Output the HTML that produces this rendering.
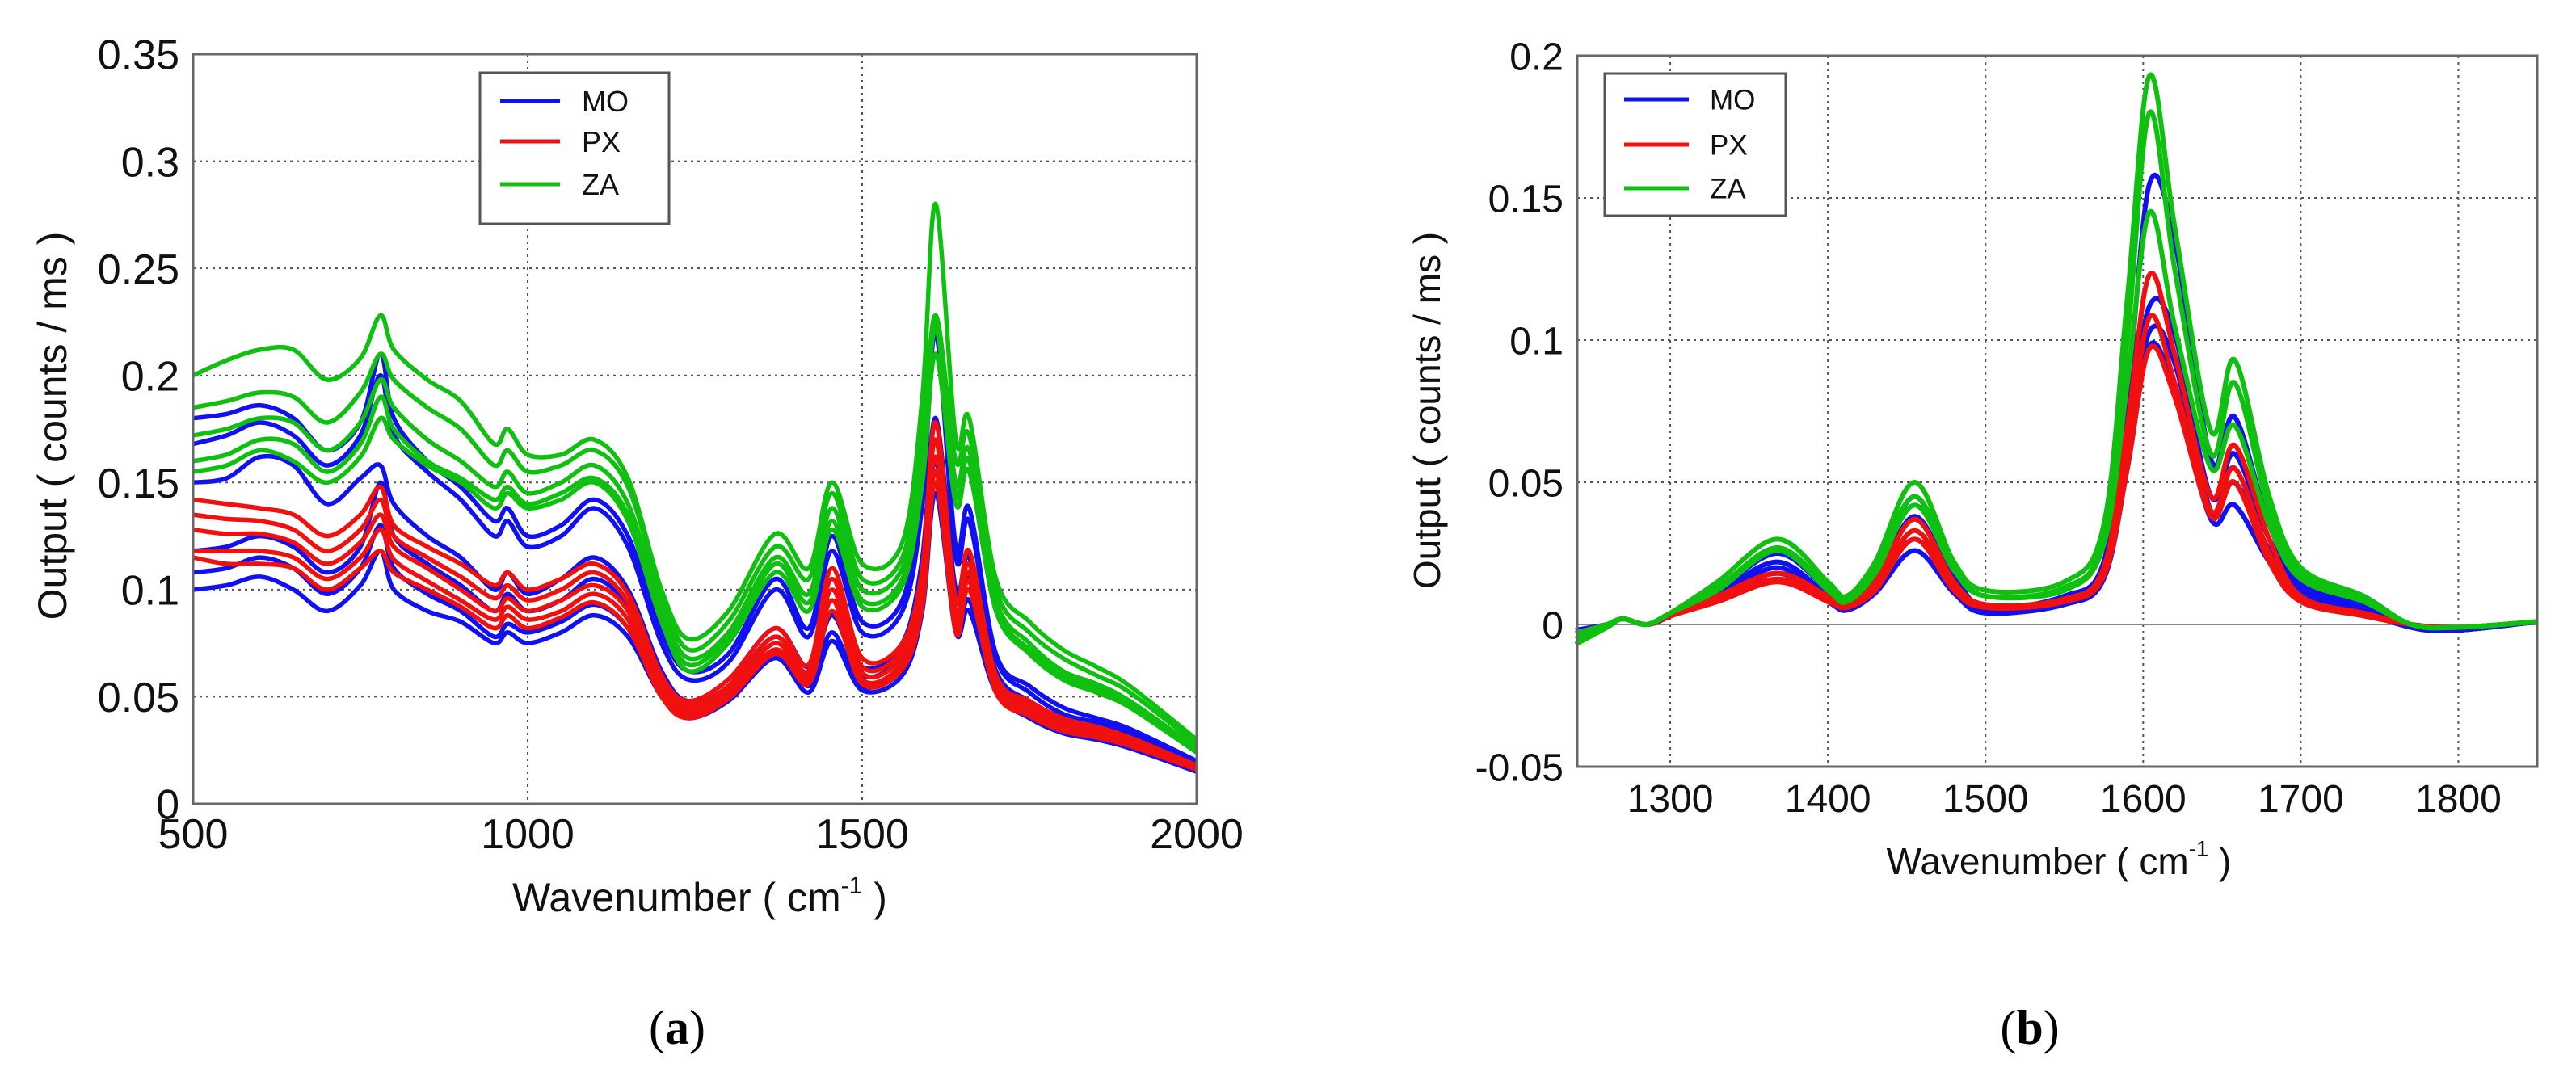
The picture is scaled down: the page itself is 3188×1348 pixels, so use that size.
<!DOCTYPE html>
<html><head><meta charset="utf-8"><style>
html,body{margin:0;padding:0;background:#fff;}
svg{display:block;font-family:"Liberation Sans",Arial,sans-serif;}
</style></head><body>
<svg id="fig" width="3188" height="1348" viewBox="0 0 3188 1348" xmlns="http://www.w3.org/2000/svg">
<rect width="3188" height="1348" fill="#fff"/>
<g id="chartA"></g>
<g id="chartB"></g>
<text x="838" y="1292" font-family="Liberation Serif,serif" font-size="60" text-anchor="middle">(<tspan font-weight="bold">a</tspan>)</text>
<text x="2512" y="1292" font-family="Liberation Serif,serif" font-size="60" text-anchor="middle">(<tspan font-weight="bold">b</tspan>)</text>
</svg>
<script>
// ---- Chart A data ----
const gridA = [500,550,600,650,700,750,780,800,850,900,950,970,1000,1050,1100,1150,1200,1240,1300,1370,1420,1455,1500,1560,1590,1610,1640,1660,1700,1750,1800,1850,1900,2000];
const moA = [
[.180,.182,.186,.180,.165,.178,.210,.180,.160,.148,.132,.138,.125,.130,.142,.125,.080,.062,.070,.105,.082,.125,.085,.095,.150,.225,.120,.138,.070,.055,.045,.040,.035,.020],
[.168,.172,.178,.172,.158,.172,.200,.172,.155,.142,.125,.132,.120,.125,.138,.120,.075,.058,.066,.100,.078,.118,.080,.090,.140,.220,.115,.132,.068,.052,.042,.038,.033,.019],
[.150,.152,.162,.158,.140,.152,.158,.140,.125,.115,.100,.108,.098,.105,.115,.100,.062,.048,.058,.082,.064,.095,.064,.075,.115,.180,.100,.115,.062,.048,.040,.036,.031,.018],
[.118,.120,.125,.120,.108,.120,.150,.125,.112,.102,.090,.098,.090,.095,.105,.092,.058,.045,.055,.078,.060,.088,.060,.070,.105,.160,.090,.105,.058,.045,.037,.033,.029,.017],
[.108,.110,.115,.110,.098,.110,.130,.110,.098,.090,.078,.084,.080,.085,.093,.082,.052,.042,.050,.072,.055,.080,.055,.064,.095,.150,.082,.095,.055,.042,.034,.031,.027,.016],
[.100,.102,.106,.100,.090,.102,.118,.100,.090,.085,.075,.080,.075,.080,.088,.078,.050,.040,.048,.068,.052,.076,.053,.060,.090,.145,.080,.090,.052,.040,.033,.030,.026,.015]];
const pxA = [
[.142,.140,.138,.135,.125,.135,.148,.130,.120,.112,.102,.108,.100,.105,.112,.098,.060,.048,.058,.082,.065,.110,.068,.075,.110,.178,.095,.118,.060,.048,.040,.036,.031,.018],
[.135,.133,.132,.128,.118,.128,.142,.125,.115,.106,.096,.102,.095,.100,.108,.094,.057,.046,.055,.078,.062,.105,.064,.072,.105,.170,.090,.112,.058,.046,.038,.034,.030,.017],
[.128,.126,.126,.122,.112,.122,.135,.120,.110,.100,.090,.096,.090,.095,.102,.090,.054,.044,.053,.075,.060,.100,.061,.069,.100,.162,.086,.108,.056,.044,.036,.033,.029,.017],
[.118,.118,.118,.115,.105,.115,.128,.114,.104,.095,.086,.092,.086,.090,.098,.086,.052,.042,.051,.072,.058,.095,.058,.066,.096,.155,.082,.104,.054,.042,.035,.032,.028,.016],
[.115,.112,.112,.110,.100,.110,.118,.108,.100,.092,.082,.088,.082,.087,.094,.082,.050,.040,.049,.070,.056,.090,.056,.063,.092,.150,.080,.100,.052,.041,.034,.031,.027,.016]];
const zaA = [
[.200,.207,.212,.212,.198,.208,.228,.212,.198,.188,.168,.175,.163,.163,.170,.152,.100,.077,.090,.126,.110,.150,.112,.122,.190,.280,.170,.180,.105,.085,.072,.064,.055,.030],
[.185,.188,.192,.190,.178,.192,.210,.198,.185,.175,.158,.165,.155,.158,.165,.148,.098,.072,.085,.120,.105,.145,.105,.115,.170,.228,.160,.172,.100,.080,.068,.060,.052,.028],
[.172,.175,.180,.178,.165,.178,.198,.185,.170,.160,.148,.155,.145,.150,.158,.140,.092,.068,.080,.115,.098,.138,.100,.110,.160,.222,.150,.165,.095,.075,.062,.056,.048,.026],
[.160,.163,.170,.168,.155,.168,.190,.175,.160,.152,.142,.148,.140,.145,.152,.135,.088,.065,.078,.112,.094,.132,.095,.105,.155,.225,.145,.160,.092,.072,.060,.054,.046,.025],
[.155,.158,.165,.160,.150,.162,.180,.170,.158,.150,.138,.145,.138,.142,.150,.132,.085,.062,.075,.108,.090,.128,.092,.102,.150,.210,.140,.155,.090,.070,.058,.052,.045,.024]];
const xTicksA = [500,1000,1500,2000];
const yTicksA = [0,0.05,0.1,0.15,0.2,0.25,0.3,0.35];
const yTickLabelsA = ["0","0.05","0.1","0.15","0.2","0.25","0.3","0.35"];

// ---- Chart B data ----
const gridB = [1240,1260,1270,1285,1300,1330,1368,1400,1412,1430,1455,1480,1500,1550,1575,1590,1604,1620,1643,1658,1680,1700,1740,1770,1800,1850];
const moB = [
[-.003,0,.002,0,.003,.012,.025,.012,.007,.018,.045,.018,.006,.010,.022,.080,.155,.135,.058,.073,.035,.016,.007,-.001,-.002,.001],
[-.003,0,.002,0,.003,.011,.022,.010,.006,.015,.038,.015,.005,.009,.020,.065,.112,.102,.045,.060,.030,.014,.006,-.001,-.002,.001],
[-.002,0,.002,0,.003,.010,.020,.009,.006,.013,.030,.013,.005,.008,.018,.060,.103,.092,.040,.050,.026,.012,.005,-.001,-.002,.001],
[-.002,0,.002,0,.003,.009,.018,.008,.005,.011,.026,.011,.004,.007,.016,.055,.098,.082,.037,.042,.022,.010,.004,-.001,-.002,.001]];
const pxB = [
[-.003,0,.002,0,.003,.010,.018,.010,.007,.015,.037,.015,.007,.009,.020,.070,.123,.095,.045,.063,.030,.010,.004,0,-.001,.001],
[-.003,0,.002,0,.003,.009,.016,.009,.006,.013,.033,.013,.006,.008,.018,.060,.108,.085,.040,.055,.025,.009,.004,0,-.001,.001],
[-.003,0,.002,0,.003,.008,.015,.008,.006,.012,.030,.012,.006,.008,.017,.055,.097,.080,.038,.050,.022,.008,.003,0,-.001,.001]];
const zaB = [
[-.007,-.001,.002,0,.004,.015,.030,.015,.010,.022,.050,.022,.012,.015,.035,.115,.193,.140,.068,.093,.045,.020,.010,0,-.001,.001],
[-.005,0,.002,0,.004,.013,.027,.013,.009,.020,.045,.020,.010,.013,.030,.100,.180,.125,.060,.085,.040,.018,.009,0,-.001,.001],
[-.003,0,.002,0,.004,.012,.026,.012,.008,.018,.042,.019,.010,.012,.028,.085,.145,.105,.055,.070,.035,.016,.008,0,-.001,.001]];
const xTicksB = [1300,1400,1500,1600,1700,1800];
const yTicksB = [-0.05,0,0.05,0.1,0.15,0.2];
const yTickLabelsB = ["-0.05","0","0.05","0.1","0.15","0.2"];
const seriesNames = ["MO","PX","ZA"];

const NS = "http://www.w3.org/2000/svg";
function mk(tag, attrs, parent){
  const e = document.createElementNS(NS, tag);
  for (const k in attrs) e.setAttribute(k, attrs[k]);
  parent.appendChild(e); return e;
}
function smoothPath(pts){
  let d = "M"+pts[0][0].toFixed(1)+","+pts[0][1].toFixed(1);
  for (let i=0;i<pts.length-1;i++){
    const p0=pts[Math.max(0,i-1)], p1=pts[i], p2=pts[i+1], p3=pts[Math.min(pts.length-1,i+2)];
    const c1x=p1[0]+(p2[0]-p0[0])/6, c1y=p1[1]+(p2[1]-p0[1])/6;
    const c2x=p2[0]-(p3[0]-p1[0])/6, c2y=p2[1]-(p3[1]-p1[1])/6;
    d+=" C"+c1x.toFixed(1)+","+c1y.toFixed(1)+" "+c2x.toFixed(1)+","+c2y.toFixed(1)+" "+p2[0].toFixed(1)+","+p2[1].toFixed(1);
  }
  return d;
}
function drawChart(cfg){
  const g = document.getElementById(cfg.id);
  const X = v => cfg.L + (v-cfg.xmin)/(cfg.xmax-cfg.xmin)*(cfg.R-cfg.L);
  const Y = v => cfg.B - (v-cfg.ymin)/(cfg.ymax-cfg.ymin)*(cfg.B-cfg.T);
  cfg.xTicks.forEach(t=>{
    if (X(t)>cfg.L+2 && X(t)<cfg.R-2){
      const l = mk("line",{x1:X(t),x2:X(t),y1:cfg.T,y2:cfg.B,stroke:"#555","stroke-width":2,"stroke-dasharray":"3,5"},g);
      
      
    }
  });
  cfg.yTicks.forEach((t,i)=>{
    if (Y(t)>cfg.T+2 && Y(t)<cfg.B-2){
      const solid = cfg.zeroSolid && t===0;
      const l = mk("line",{x1:cfg.L,x2:cfg.R,y1:Y(t),y2:Y(t),stroke:solid?"#888":"#555","stroke-width":2,"stroke-dasharray":solid?"none":"3,5"},g);
      
      
    }
    const tx = mk("text",{x:cfg.L-cfg.ytickGap,y:Y(t)+cfg.tickFont*0.36,"font-size":cfg.tickFont,"text-anchor":"end",fill:"#111"},g);
    tx.textContent = cfg.yTickLabels[i];
    
    
  });
  cfg.xTicks.forEach(t=>{
    const tx = mk("text",{x:X(t),y:cfg.xtickY,"font-size":cfg.tickFont,"text-anchor":"middle",fill:"#111"},g);
    tx.textContent = String(t);
    
    
  });
  const groups = [[cfg.mo,"#1010f0","MO"],[cfg.px,"#f01010","PX"],[cfg.za,"#10c010","ZA"]];
  groups.forEach(([arr,col,nm])=>{
    arr.forEach((vals,k)=>{
      const pts = cfg.grid.map((x,i)=>[X(x),Y(vals[i])]);
      const p = mk("path",{d:smoothPath(pts),fill:"none",stroke:col,"stroke-width":cfg.lw,"stroke-linejoin":"round"},g);
      
      
    });
  });
  const fr = mk("rect",{x:cfg.L,y:cfg.T,width:cfg.R-cfg.L,height:cfg.B-cfg.T,fill:"none",stroke:"#666","stroke-width":3},g);
  
  
  const lg = mk("g",{},g);
  
  
  const lb = mk("rect",{x:cfg.leg[0],y:cfg.leg[1],width:cfg.leg[2],height:cfg.leg[3],fill:"#fff",stroke:"#555","stroke-width":3},lg);
  
  
  groups.forEach(([arr,col,nm],i)=>{
    const y = cfg.legY[i];
    const ln = mk("line",{x1:cfg.legLine[0],x2:cfg.legLine[1],y1:y,y2:y,stroke:col,"stroke-width":5},lg);
    
    
    const tx = mk("text",{x:cfg.legText,y:y+cfg.legFont*0.36,"font-size":cfg.legFont,fill:"#111"},lg);
    tx.textContent = seriesNames[i];
    
    
  });
  const xt = mk("text",{x:cfg.xlab[0],y:cfg.xlab[1],"font-size":cfg.labFont,"text-anchor":"middle",fill:"#111"},g);
  xt.innerHTML = 'Wavenumber  ( cm<tspan dy="-22" font-size="'+(cfg.labFont*0.6)+'">-1</tspan><tspan dy="22"> )</tspan>';
  
  
  const yt = mk("text",{x:0,y:0,"font-size":cfg.labFont,"text-anchor":"middle",fill:"#111","xml:space":"preserve",transform:"translate("+cfg.ylab[0]+","+cfg.ylab[1]+") rotate(-90)"},g);
  yt.textContent = "Output   ( counts / ms )";
  
  
}
drawChart({id:"chartA",L:239,R:1481,T:67,B:995,xmin:500,xmax:2000,ymin:0,ymax:0.35,
  grid:gridA,mo:moA,px:pxA,za:zaA,xTicks:xTicksA,yTicks:yTicksA,yTickLabels:yTickLabelsA,
  tickFont:52,ytickGap:17,xtickY:1050,lw:5.5,zeroSolid:false,
  leg:[594,90,234,187],legY:[125,175,228],legLine:[619,693],legText:[720],legFont:36,
  xlab:[866,1128],ylab:[82,527],labFont:50});
drawChart({id:"chartB",L:1952,R:3140,T:69,B:949,xmin:1241,xmax:1850,ymin:-0.05,ymax:0.2,
  grid:gridB,mo:moB,px:pxB,za:zaB,xTicks:xTicksB,yTicks:yTicksB,yTickLabels:yTickLabelsB,
  tickFont:48,ytickGap:17,xtickY:1005,lw:6,zeroSolid:true,
  leg:[1986,91,224,176],legY:[123,179,233],legLine:[2010,2090],legText:[2116],legFont:35,
  xlab:[2548,1082],ylab:[1782,508],labFont:46});
</script>
</body></html>
